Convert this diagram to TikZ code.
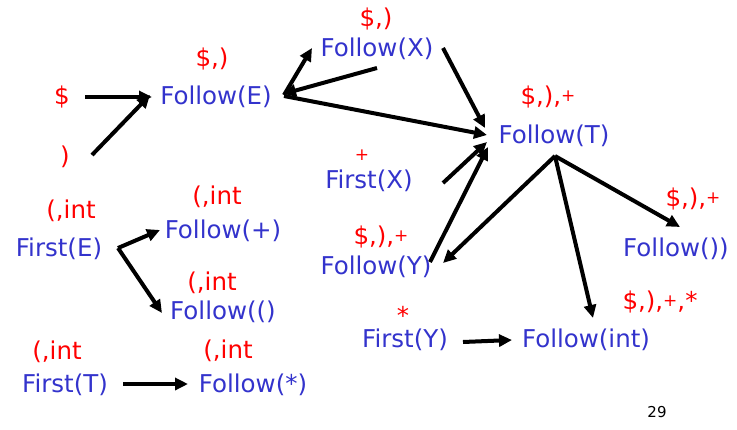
\documentclass[tikz,border=0pt]{standalone}
\usepackage{fontspec}
\setmainfont{DejaVu Sans}
\usetikzlibrary{calc,arrows.meta}
\definecolor{nmblue}{RGB}{51,51,204}
\definecolor{lbred}{RGB}{255,0,0}
\newcommand{\smp}{\raisebox{3pt}{\fontsize{17}{17}\selectfont +}}
\tikzset{
  nm/.style={text=nmblue, font=\fontsize{24.5}{24.5}\selectfont, inner sep=0pt},
  lb/.style={text=lbred, font=\fontsize{24.5}{24.5}\selectfont, inner sep=0pt},
  arr/.style={draw=black, line width=4pt, -{Triangle[length=13pt,width=12pt]}},
}
\begin{document}
\begin{tikzpicture}[x=1pt,y=-1pt]
\useasboundingbox (0,0) rectangle (737,429);
% top-left sources
\node[lb] (dol) at (62,97) {\$};
\node[lb] (rp) at (65,157) {)};
% Follow(E)
\node[lb] (lE) at (212,59) {\$,)};
\node[nm] (fE) at (216,97) {Follow(E)};
% Follow(X)
\node[lb] (lX) at (376,19) {\$,)};
\node[nm] (fX) at (377,49) {Follow(X)};
% Follow(T)
\node[lb] (lT) at (548,97) {\$,),\smp};
\node[nm] (fT) at (554,136) {Follow(T)};
% First(X)
\node[lb] (lFX) at (362,157) {\smp};
\node[nm] (firX) at (369,181) {First(X)};
% First(E)
\node[lb] (lFE) at (71,211) {(,int};
\node[nm] (firE) at (59,249) {First(E)};
% Follow(+)
\node[lb] (lP) at (217,197) {(,int};
\node[nm] (fP) at (223,231) {Follow(+)};
% Follow((
\node[lb] (lO) at (212,283) {(,int};
\node[nm] (fO) at (223,312) {Follow(()};
% Follow(Y)
\node[lb] (lY) at (381,237) {\$,),\smp};
\node[nm] (fY) at (376,267) {Follow(Y)};
% Follow())
\node[lb] (lC) at (693,199) {\$,),\smp};
\node[nm] (fC) at (676,249) {Follow())};
% First(Y)
\node[lb] (lFY) at (403,315) {*};
\node[nm] (firY) at (405,340) {First(Y)};
% Follow(int)
\node[lb] (lI) at (660,302) {\$,),\smp,*};
\node[nm] (fI) at (586,340) {Follow(int)};
% First(T)
\node[lb] (lFT) at (57,352) {(,int};
\node[nm] (firT) at (65,385) {First(T)};
% Follow(*)
\node[lb] (lS) at (228,351) {(,int};
\node[nm] (fS) at (253,385) {Follow(*)};
% page number
\node[inner sep=0pt, font=\fontsize{15}{15}\selectfont] (pg) at (657,412) {29};
% arrows
\draw[arr] ($(dol)+(23,0)$) -- ($(fE)+(-64,0)$);
\draw[arr] ($(rp)+(27,-2)$) -- ($(fE)+(-66,-2)$);
\draw[arr] ($(fE)+(68,-2)$) -- ($(fX)+(-65,-1)$);
\draw[arr] ($(fX)+(0,19)$) -- ($(fE)+(67,-3)$);
\draw[arr] ($(fE)+(68,-1)$) -- ($(fT)+(-67,-1)$);
\draw[arr] ($(fX)+(66,-1)$) -- ($(fT)+(-69,-8)$);
\draw[arr] ($(firX)+(74,2)$) -- ($(fT)+(-67,6)$);
\draw[arr] ($(fY)+(54,-5)$) -- ($(fT)+(-66,11)$);
\draw[arr] ($(fT)+(1,20)$) -- ($(fY)+(67,-4)$);
\draw[arr] ($(fT)+(1,20)$) -- ($(fI)+(7,-22)$);
\draw[arr] ($(fT)+(1,20)$) -- ($(fC)+(4,-22)$);
\draw[arr] ($(firE)+(59,-1)$) -- ($(fP)+(-63,-1)$);
\draw[arr] ($(firE)+(59,-1)$) -- ($(fO)+(-61,1)$);
\draw[arr] ($(firT)+(58,-1)$) -- ($(fS)+(-65,-1)$);
\draw[arr] ($(firY)+(58,2)$) -- ($(fI)+(-74,0)$);
\end{tikzpicture}
\end{document}
